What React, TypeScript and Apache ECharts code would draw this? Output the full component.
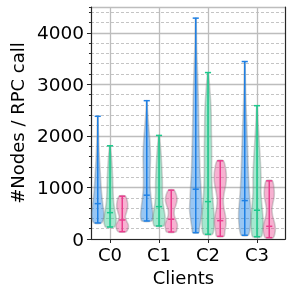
import React, { useEffect, useRef } from "react";
import * as echarts from "echarts";

const categories = ["C0", "C1", "C2", "C3"];

// knot values (y) and relative half-widths of each violin, per client
const blueValues = [
  [311, 400, 500, 650, 800, 1000, 1300, 1600, 2000, 2380],
  [350, 450, 600, 800, 1000, 1300, 1600, 1900, 2200, 2500, 2683],
  [123, 200, 350, 550, 750, 1000, 1300, 1700, 2200, 2700, 3200, 3700, 4284],
  [72, 150, 300, 500, 750, 1000, 1400, 1800, 2300, 2800, 3442],
];
const blueWidths = [
  [0.6, 0.95, 1.0, 0.85, 0.7, 0.55, 0.4, 0.25, 0.12, 0.03],
  [0.8, 1.0, 0.9, 0.7, 0.55, 0.55, 0.6, 0.5, 0.3, 0.12, 0.04],
  [0.5, 0.6, 0.8, 1.0, 0.95, 0.85, 0.7, 0.6, 0.5, 0.42, 0.3, 0.15, 0.05],
  [0.55, 0.8, 0.95, 1.0, 0.85, 0.7, 0.55, 0.45, 0.3, 0.15, 0.04],
];
const blueMedians = [686, 850, 966, 745];

const greenValues = [
  [233, 300, 400, 550, 700, 900, 1200, 1500, 1808],
  [253, 320, 420, 550, 700, 900, 1100, 1400, 1700, 2009],
  [91, 200, 400, 600, 900, 1300, 1700, 2100, 2500, 2900, 3228],
  [45, 150, 300, 450, 650, 900, 1200, 1500, 1800, 2200, 2586],
];
const greenWidths = [
  [0.7, 0.95, 1.0, 0.8, 0.6, 0.5, 0.42, 0.3, 0.05],
  [0.75, 0.95, 1.0, 0.85, 0.65, 0.55, 0.55, 0.45, 0.3, 0.05],
  [0.7, 0.95, 1.0, 0.9, 0.7, 0.6, 0.6, 0.55, 0.5, 0.3, 0.05],
  [0.7, 0.9, 1.0, 0.95, 0.8, 0.65, 0.65, 0.55, 0.4, 0.2, 0.04],
];
const greenMedians = [511, 628, 725, 558];

const pinkValues = [
  [142, 200, 270, 350, 430, 520, 620, 720, 830],
  [136, 200, 280, 370, 460, 560, 650, 750, 850, 947],
  [52, 150, 300, 450, 600, 750, 900, 1050, 1200, 1350, 1517],
  [26, 100, 200, 320, 450, 580, 700, 820, 950, 1128],
];
const pinkWidths = [
  [0.65, 0.95, 1.0, 0.7, 0.5, 0.7, 0.9, 0.85, 0.5],
  [0.75, 0.95, 1.0, 0.75, 0.5, 0.5, 0.75, 0.95, 0.85, 0.45],
  [0.6, 0.75, 0.95, 0.85, 0.6, 0.5, 0.65, 0.9, 1.0, 0.9, 0.5],
  [0.65, 0.9, 1.0, 0.85, 0.55, 0.45, 0.6, 0.8, 0.8, 0.5],
];
const pinkMedians = [369, 383, 356, 246];

const FONT = "DejaVu Sans";
const HALF_WIDTH = 0.125;
const HALF_CAP = 0.0625;

function makeViolin(
  name: string,
  color: string,
  fill: string,
  offset: number,
  values: number[][],
  widths: number[][],
  medians: number[]
) {
  return {
    type: "custom",
    name,
    xAxisIndex: 2,
    yAxisIndex: 2,
    clip: false,
    data: medians.map((m, i) => [i, values[i][0], m, values[i][values[i].length - 1]]),
    renderItem: (params: any, api: any) => {
      const i = params.dataIndex;
      const cat = api.value(0);
      const unit = api.coord([1, 0])[0] - api.coord([0, 0])[0];
      const cx = api.coord([cat, 0])[0] + offset * unit;
      const half = HALF_WIDTH * unit;
      const vals = values[i];
      const ws = widths[i];
      const right = vals.map((v, k) => [cx + ws[k] * half, api.coord([cat, v])[1]]);
      const left = vals
        .map((v, k) => [cx - ws[k] * half, api.coord([cat, v])[1]])
        .reverse();
      const pts = right.concat(left);
      const yMin = api.coord([cat, api.value(1)])[1];
      const yMed = api.coord([cat, api.value(2)])[1];
      const yMax = api.coord([cat, api.value(3)])[1];
      const cap = HALF_CAP * unit;
      const ls = { stroke: color, lineWidth: 1.5 };
      return {
        type: "group",
        children: [
          {
            type: "polygon",
            shape: { points: pts, smooth: 0.3 },
            style: { fill, stroke: "rgba(130,130,130,0.35)", lineWidth: 1.6 },
          },
          { type: "line", shape: { x1: cx, y1: yMin, x2: cx, y2: yMax }, style: ls },
          { type: "line", shape: { x1: cx - cap, y1: yMin, x2: cx + cap, y2: yMin }, style: ls },
          { type: "line", shape: { x1: cx - cap, y1: yMax, x2: cx + cap, y2: yMax }, style: ls },
          { type: "line", shape: { x1: cx - cap, y1: yMed, x2: cx + cap, y2: yMed }, style: ls },
        ],
      };
    },
  };
}

export default function App() {
  const ref = useRef<HTMLDivElement>(null);
  useEffect(() => {
    if (!ref.current) return;
    const chart = echarts.init(ref.current, null, { renderer: "svg" });
    const frameLine = { show: true, lineStyle: { color: "#262626", width: 1.2 } };
    const Y_MAX = 4500;
    chart.setOption({
      animation: false,
      grid: [
        { left: 82, right: 8, top: 7, bottom: 54 },
        { left: 110, right: 36, top: 7, bottom: 54 },
      ],
      xAxis: [
        {
          gridIndex: 0, type: "value", min: 0, max: 1, position: "bottom",
          axisLine: frameLine, axisTick: { show: false }, axisLabel: { show: false }, splitLine: { show: false },
        },
        {
          gridIndex: 0, type: "value", min: 0, max: 1, position: "top",
          axisLine: frameLine, axisTick: { show: false }, axisLabel: { show: false }, splitLine: { show: false },
        },
        {
          gridIndex: 1, type: "category", data: categories, boundaryGap: false, position: "bottom",
          axisLine: { show: false },
          axisTick: { show: true, length: 4, lineStyle: { color: "#262626", width: 1 } },
          axisLabel: { color: "#000", fontSize: 18, fontFamily: FONT, margin: 6 },
          splitLine: { show: true, lineStyle: { color: "#bdbdbd", width: 1.3 } },
          name: "Clients", nameLocation: "middle", nameGap: 29,
          nameTextStyle: { color: "#000", fontSize: 18, fontFamily: FONT },
        },
      ],
      yAxis: [
        {
          gridIndex: 0, type: "value", min: 0, max: Y_MAX, interval: 200, position: "left", offset: 0,
          axisLine: { show: false },
          axisTick: { show: true, length: 2, lineStyle: { color: "#262626", width: 1 } },
          axisLabel: { show: false },
          splitLine: { show: true, lineStyle: { color: "#c4c4c4", width: 1, type: [3, 2] } },
        },
        {
          gridIndex: 0, type: "value", min: 0, max: Y_MAX, interval: 1000, position: "left", offset: 0,
          axisLine: frameLine,
          axisTick: { show: true, length: 4, lineStyle: { color: "#262626", width: 1 } },
          axisLabel: {
            color: "#000", fontSize: 18.5, fontFamily: FONT, margin: 7, showMaxLabel: false,
            formatter: (v: number) => String(v),
          },
          splitLine: { show: true, lineStyle: { color: "#bdbdbd", width: 1.3 } },
          name: "#Nodes / RPC call", nameLocation: "middle", nameGap: 60, nameRotate: 90,
          nameTextStyle: { color: "#000", fontSize: 18, fontFamily: FONT },
        },
        { gridIndex: 1, type: "value", min: 0, max: Y_MAX, show: false },
        {
          gridIndex: 0, type: "value", min: 0, max: Y_MAX, position: "right", offset: 0,
          axisLine: frameLine, axisTick: { show: false }, axisLabel: { show: false }, splitLine: { show: false },
        },
      ],
      series: [
        makeViolin("blue", "#1f80e4", "rgba(40,135,230,0.48)", -0.25, blueValues, blueWidths, blueMedians),
        makeViolin("green", "#1cc98c", "rgba(40,200,140,0.42)", 0, greenValues, greenWidths, greenMedians),
        makeViolin("pink", "#ea3d8e", "rgba(235,70,145,0.42)", 0.25, pinkValues, pinkWidths, pinkMedians),
      ],
    });
    return () => chart.dispose();
  }, []);
  return (
    <div
      ref={ref}
      style={{ position: "fixed", left: 0, top: 0, width: 293, height: 293 }}
    />
  );
}
